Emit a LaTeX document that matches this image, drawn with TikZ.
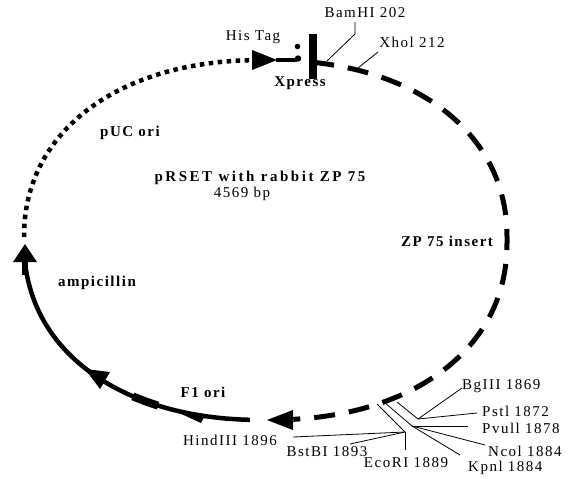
\documentclass[tikz,border=0pt]{standalone}
\usepackage{fontspec}
\setmainfont[LetterSpace=10]{Liberation Serif}
\begin{document}
\begin{tikzpicture}[x=1pt,y=-1pt,
  declare function={spw(\u)=(\u<0?-1:1)*(abs(\u)+0.0001)^0.909; ex(\t)=265.5+241.5*spw(cos(\t)); ey(\t)=240-180*spw(sin(\t));},
  lab/.style={font=\fontsize{15}{18}\selectfont, inner sep=0pt},
  blab/.style={font=\fontsize{15}{18}\selectfont\bfseries, inner sep=0pt},
  leader/.style={line width=0.8pt},
  dotline/.style={line width=4.5pt, dash pattern=on 4.5pt off 4.5pt},
  dashline/.style={line width=5pt, dash pattern=on 21pt off 14pt},
  solidline/.style={line width=4.5pt},
]
\useasboundingbox (0,0) rectangle (570,479);

% backbone
\draw[dotline] plot[domain=179.4:92.8, samples=120] ({ex(\x)},{ey(\x)});
\draw[dashline] plot[domain=80.4:-84.7, samples=200] ({ex(\x)},{ey(\x)});
\draw[solidline] plot[domain=-92.8:-174.3, samples=120] ({ex(\x)},{ey(\x)});
\draw[line width=8pt] plot[domain=-114.2:-121.1, samples=10] ({ex(\x)},{ey(\x)});

% arrowheads and features
\fill (252,50) -- (277,60) -- (252,70) -- cycle;
\fill (293,410) -- (267,420) -- (293,430) -- cycle;
\fill (13,262) -- (25,244) -- (37,262) -- cycle;
\fill (21.5,261) rectangle (27.5,275);
\fill (100,389) -- (85,369) -- (110,372) -- cycle;
\fill (177,412) -- (204,417) -- (201,423) -- cycle;
\draw[line width=4pt] (276,59.5) -- (297,59.5);
\fill (298,58.5) circle (3.2);
\fill (297.5,46.5) circle (2.8);
\fill (309,34) rectangle (317,79);

% labels
\node[lab] (histag) at (253,37) {His Tag};
\node[blab] (xpress) at (300,83) {Xpress};
\node[lab] (bamhi) at (365,13) {BamHI 202};
\node[lab] (xhoi) at (412,42) {Xhol 212};
\node[blab] (puc) at (130,133) {pUC ori};
\node[blab] (title) at (260,178) {\addfontfeature{LetterSpace=17}pRSET with rabbit ZP 75};
\node[lab] (size) at (242,194) {4569 bp};
\node[blab] (zp) at (447,241) {ZP 75 insert};
\node[blab] (amp) at (97,283) {ampicillin};
\node[blab] (f1) at (203,392) {F1 ori};
\node[lab, anchor=east] (hind) at (277,440) {HindIII 1896};
\node[lab] (bstbi) at (327,452) {BstBI 1893};
\node[lab] (ecori) at (406,463) {EcoRI 1889};
\node[lab, anchor=west] (bglii) at (462,386) {BgIII 1869};
\node[lab, anchor=west] (psti) at (482,411) {Pstl 1872};
\node[lab, anchor=west] (pvuii) at (482,428) {Pvull 1878};
\node[lab, anchor=west] (ncoi) at (488,451) {Ncol 1884};
\node[lab, anchor=west] (kpni) at (468,468) {Kpnl 1884};

% leader coordinates
\coordinate (bam1) at (355,22);
\coordinate (bam2) at (355,34);
\coordinate (bam3) at (327,61);
\coordinate (xho1) at (378,52);
\coordinate (xho2) at (358,68);
\coordinate (c1) at (377,404);
\coordinate (j1) at (405,432);
\coordinate (c2) at (384,402);
\coordinate (j2) at (412,426);
\coordinate (c3) at (397,402);
\coordinate (j3) at (418,419);
\coordinate (hindend) at (293,437);
\coordinate (bstend) at (350,444);
\coordinate (ecoend) at (405,450);
\coordinate (pvuend) at (468,426);
\coordinate (ncoend) at (485,445);
\coordinate (kpnend) at (460,455);
\coordinate (bglend) at (462,388);
\coordinate (pstend) at (477,413);

\draw[leader] (bam1) -- (bam2) -- (bam3);
\draw[leader] (xho1) -- (xho2);
\draw[leader] (c1) -- (j1);
\draw[leader] (c2) -- (j2);
\draw[leader] (c3) -- (j3);
\draw[leader] (j1) -- (hindend);
\draw[leader] (j1) -- (bstend);
\draw[leader] (j1) -- (ecoend);
\draw[leader] (j2) -- (pvuend);
\draw[leader] (j2) -- (ncoend);
\draw[leader] (j2) -- (kpnend);
\draw[leader] (j3) -- (bglend);
\draw[leader] (j3) -- (pstend);
\end{tikzpicture}
\end{document}
